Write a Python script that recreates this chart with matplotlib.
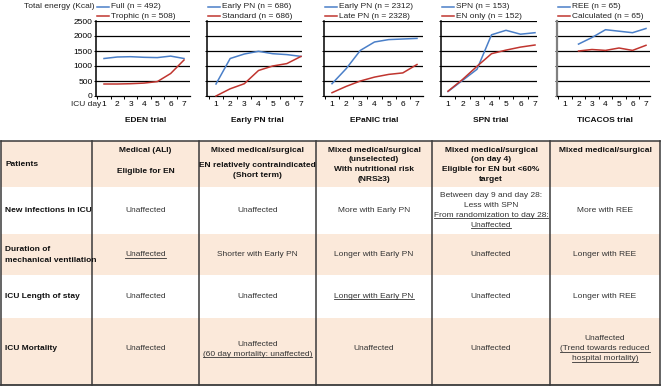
import matplotlib
matplotlib.use('Agg')
import matplotlib.pyplot as plt
from matplotlib.lines import Line2D
from matplotlib.patches import Rectangle

plt.rcParams['font.family'] = ['Liberation Sans', 'DejaVu Sans']

# ---- energy curves (kcal per ICU day) ----
days = [1, 2, 3, 4, 5, 6, 7]
ticacos_days = [2, 3, 4, 5, 6, 7]

eden_full = [1250, 1300, 1310, 1290, 1280, 1330, 1250]
eden_trophic = [400, 400, 410, 430, 480, 750, 1200]
earlypn_early = [400, 1250, 1400, 1490, 1410, 1380, 1320]
earlypn_standard = [0, 240, 410, 850, 1000, 1080, 1320]
epanic_early = [410, 910, 1520, 1800, 1880, 1900, 1920]
epanic_late = [110, 320, 500, 630, 720, 770, 1050]
spn_spn = [150, 520, 890, 2040, 2190, 2060, 2110]
spn_en_only = [160, 550, 990, 1410, 1530, 1630, 1700]
ticacos_ree = [1730, 1950, 2210, 2160, 2110, 2250]
ticacos_calculated = [1500, 1550, 1520, 1600, 1520, 1690]

trial_names = ['EDEN trial', 'Early PN trial', 'EPaNIC trial', 'SPN trial', 'TICACOS trial']
legend_blue = ['Full (n = 492)', 'Early PN (n = 686)', 'Early PN (n = 2312)',
               'SPN (n = 153)', 'REE (n = 65)']
legend_red = ['Trophic (n = 508)', 'Standard (n = 686)', 'Late PN (n = 2328)',
              'EN only (n = 152)', 'Calculated (n = 65)']
yticks = [0, 500, 1000, 1500, 2000, 2500]

blue_series = [(days, eden_full), (days, earlypn_early), (days, epanic_early),
               (days, spn_spn), (ticacos_days, ticacos_ree)]
red_series = [(days, eden_trophic), (days, earlypn_standard), (days, epanic_late),
              (days, spn_en_only), (ticacos_days, ticacos_calculated)]


# ---- table ----
def U(s):
    return (s, True)


row_labels = [['Patients'], ['New infections in ICU'],
              ['Duration of', 'mechanical ventilation'],
              ['ICU Length of stay'], ['ICU Mortality']]
patients = [['Medical (ALI)', '', '', 'Eligible for EN'],
            ['Mixed medical/surgical', '', 'EN relatively contraindicated', '(Short term)'],
            ['Mixed medical/surgical', '(unselected)', 'With nutritional risk', '(NRS≥3)'],
            ['Mixed medical/surgical', '(on day 4)', 'Eligible for EN but <60%', 'target'],
            ['Mixed medical/surgical']]
infections = [['Unaffected'], ['Unaffected'], ['More with Early PN'],
              ['Between day 9 and day 28:', 'Less with SPN',
               U('From randomization to day 28:'), U('Unaffected')],
              ['More with REE']]
ventilation = [[U('Unaffected')], ['Shorter with Early PN'], ['Longer with Early PN'],
               ['Unaffected'], ['Longer with REE']]
length_of_stay = [['Unaffected'], ['Unaffected'], [U('Longer with Early PN')],
                  ['Unaffected'], ['Longer with REE']]
mortality = [['Unaffected'], ['Unaffected', U('(60 day mortality: unaffected)')],
             ['Unaffected'], ['Unaffected'],
             ['Unaffected', U('(Trend towards reduced'), U('hospital mortality)')]]
body_rows = [infections, ventilation, length_of_stay, mortality]

W, H = 662, 387
blue = '#4a7fc8'
red = '#c0352f'
peach = '#fbe9da'
fs = 6

fig = plt.figure(figsize=(W / 100, H / 100), dpi=100)


def fx(x):
    return x / W


def fy(y):
    return 1 - y / H


# table drawn in pixel coordinates
tab = fig.add_axes([0, 0, 1, 1])
tab.set_xlim(0, W)
tab.set_ylim(H, 0)
tab.axis('off')

col_x = [1, 92, 199, 316, 432, 550, 660]
row_y = [141, 187, 234, 275, 318, 385]
row_mid = [164, 210.5, 255, 296, 349]

for i in range(5):
    color = peach if i % 2 == 0 else 'white'
    tab.add_patch(Rectangle((col_x[0], row_y[i]), col_x[-1] - col_x[0],
                            row_y[i + 1] - row_y[i], facecolor=color,
                            edgecolor='none', zorder=0))
for x in col_x:
    tab.plot([x, x], [row_y[0], row_y[-1]], color='#3a3a3a', lw=1.1, zorder=2)
tab.plot([col_x[0], col_x[-1]], [row_y[0], row_y[0]], color='#3a3a3a', lw=1.1, zorder=2)
tab.plot([col_x[0], col_x[-1]], [row_y[-1], row_y[-1]], color='#3a3a3a', lw=1.3, zorder=2)

underlined = []
step = 9.8

# row labels
for i, lines in enumerate(row_labels):
    y0 = row_mid[i] - (len(lines) - 1) * 5.5
    for k, s in enumerate(lines):
        tab.text(5, y0 + k * 11, s, fontsize=fs, fontweight='bold',
                 ha='left', va='center', color='#111')

# header row, top aligned
for j, lines in enumerate(patients):
    cx = (col_x[j + 1] + col_x[j + 2]) / 2
    y = 150
    for s in lines:
        if s == '':
            y += 0.6 * step
            continue
        tab.text(cx, y, s, fontsize=fs, fontweight='bold', ha='center',
                 va='center', color='#111')
        y += step

# body rows
for i, row in enumerate(body_rows):
    for j, lines in enumerate(row):
        cx = (col_x[j + 1] + col_x[j + 2]) / 2
        n = len(lines)
        y0 = row_mid[i + 1] - (n - 1) * 10 / 2
        for k, item in enumerate(lines):
            if isinstance(item, tuple):
                s, ul = item
            else:
                s, ul = item, False
            t = tab.text(cx, y0 + k * 10, s, fontsize=fs, ha='center',
                         va='center', color='#333')
            if ul:
                underlined.append(t)

# ---- small energy charts ----
spine_x = [96, 207, 324, 441, 557]
right_x = [190, 302, 423, 537, 650]
day1_x = [104, 216, 332, 448, 565]
day7_x = [184, 301, 417, 535, 646]
title_x = [(col_x[j + 1] + col_x[j + 2]) / 2 for j in range(5)]

for n in range(5):
    ax = fig.add_axes([fx(spine_x[n]), fy(96), (right_x[n] - spine_x[n]) / W, 75 / H])
    ax.patch.set_alpha(0)
    sp = (day7_x[n] - day1_x[n]) / 6
    ax.set_xlim(1 - (day1_x[n] - spine_x[n]) / sp, 7 + (right_x[n] - day7_x[n]) / sp)
    ax.set_ylim(0, 2500)
    bx, by = blue_series[n]
    rx, ry = red_series[n]
    ax.plot(bx, by, color=blue, lw=1.1, zorder=3, clip_on=False)
    ax.plot(rx, ry, color=red, lw=1.1, zorder=3, clip_on=False)
    for v in yticks[1:]:
        ax.axhline(v, color='black', lw=0.9, zorder=1)
    for s in ['top', 'right']:
        ax.spines[s].set_visible(False)
    ax.spines['bottom'].set_linewidth(0.9)
    if n == 4:
        ax.spines['left'].set_color('#808080')
        ax.spines['left'].set_linewidth(1.6)
    else:
        ax.spines['left'].set_linewidth(1.1)
    ax.set_xticks(days)
    ax.set_xticks([d + 0.5 for d in range(0, 8)
                   if ax.get_xlim()[0] <= d + 0.5 <= ax.get_xlim()[1]], minor=True)
    ax.tick_params(axis='x', which='major', length=0, pad=3.5, labelsize=fs)
    ax.tick_params(axis='x', which='minor', length=2, width=0.7, direction='out')
    ax.set_yticks(yticks)
    ax.tick_params(axis='y', length=1.5, width=0.7, pad=1, labelsize=fs)
    if n > 0:
        ax.set_yticklabels([])

    # legend above each chart
    for yy, col, lab in [(7, blue, legend_blue[n]), (16, red, legend_red[n])]:
        fig.add_artist(Line2D([fx(spine_x[n] + 1), fx(spine_x[n] + 13)], [fy(yy), fy(yy)],
                              color=col, lw=1.1, transform=fig.transFigure))
        fig.text(fx(spine_x[n] + 15), fy(yy), lab, fontsize=fs, ha='left',
                 va='center', color='#222')

    fig.text(fx(title_x[n]), fy(121), trial_names[n], fontsize=fs,
             fontweight='bold', ha='center', va='center', color='#111')

fig.text(fx(95), fy(7), 'Total energy (Kcal)', fontsize=fs, ha='right',
         va='center', color='#222')
fig.text(fx(101), fy(104.5), 'ICU day', fontsize=fs, ha='right', va='center',
         color='#222')

# underline marked table texts
fig.canvas.draw()
renderer = fig.canvas.get_renderer()
for t in underlined:
    bb = t.get_window_extent(renderer)
    yb = bb.y0 + 1.0
    fig.add_artist(Line2D([bb.x0 / W, bb.x1 / W], [yb / H, yb / H], color='#333',
                          lw=0.6, transform=fig.transFigure))

fig.savefig('out.png', dpi=100)
